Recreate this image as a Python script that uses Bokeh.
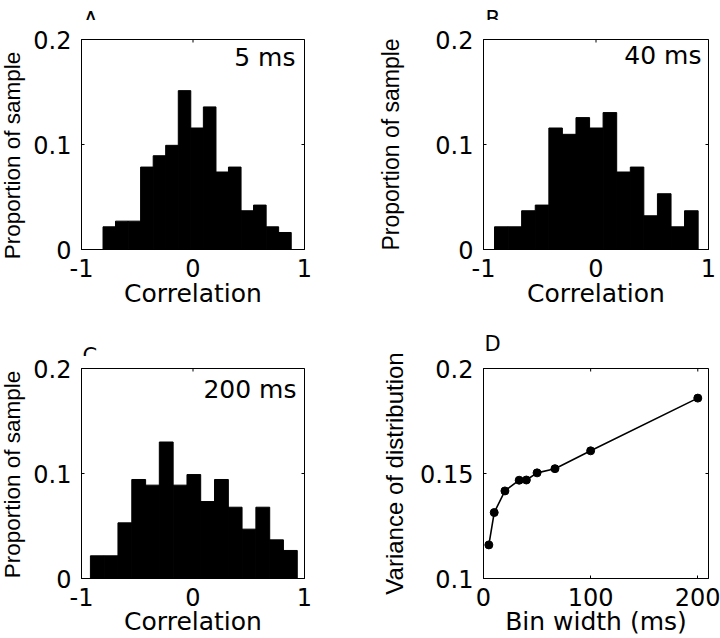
import math
from bokeh.plotting import figure
from bokeh.models import Range1d, FixedTicker, NumeralTickFormatter, LinearAxis, Label, Title
from bokeh.layouts import row, column
from bokeh.embed import file_html
from bokeh.resources import INLINE

# ---------------- data ----------------
HIST_XTICKS = [-1, 0, 1]
HIST_YTICKS = [0, 0.1, 0.2]

A_EDGES = [-0.807, -0.695, -0.582, -0.470, -0.357, -0.245, -0.132, -0.020,
           0.093, 0.206, 0.318, 0.431, 0.543, 0.656, 0.768, 0.881]
A_PROP = [0.0216, 0.0270, 0.0270, 0.0785, 0.0893, 0.0992, 0.1513, 0.1157,
          0.1358, 0.0738, 0.0785, 0.0369, 0.0423, 0.0216, 0.0162]

B_EDGES = [-0.902, -0.781, -0.661, -0.540, -0.419, -0.299, -0.178, -0.057,
           0.063, 0.184, 0.305, 0.425, 0.546, 0.667, 0.787, 0.908]
B_PROP = [0.0216, 0.0216, 0.0369, 0.0423, 0.1157, 0.1097, 0.1256, 0.1157,
          0.1304, 0.0738, 0.0785, 0.0321, 0.0531, 0.0216, 0.0369]

C_EDGES = [-0.920, -0.796, -0.673, -0.549, -0.425, -0.302, -0.178, -0.054,
           0.069, 0.193, 0.317, 0.440, 0.564, 0.688, 0.811, 0.935]
C_PROP = [0.0216, 0.0216, 0.0530, 0.0943, 0.0889, 0.1300, 0.0889, 0.0990,
          0.0733, 0.0943, 0.0679, 0.0470, 0.0679, 0.0368, 0.0267]

BIN_WIDTH_MS = [5, 10, 20, 33.3, 40, 50, 66.7, 100, 200]
VARIANCE = [0.1160, 0.1314, 0.1417, 0.1468, 0.1469, 0.1503, 0.1523, 0.1608, 0.1859]
D_XTICKS = [0, 100, 200]
D_YTICKS = [0.1, 0.15, 0.2]

PANEL_LETTERS = ["A", "B", "C", "D"]
BIN_LABELS = ["5 ms", "40 ms", "200 ms"]
Y_TITLES = ["Proportion of sample", "Proportion of sample",
            "Proportion of sample", "Variance of distribution"]
X_TITLES = ["Correlation", "Correlation", "Correlation", "Bin width (ms)"]

# ---------------- style ----------------
TICK_FONT = "DejaVu Sans"
TICK_SIZE = "24px"
HTXT_FONT = "DejaVu Sans"
HTXT_SIZE = "25px"
VTXT_FONT = "Liberation Sans"


def blank(width, height):
    """A text-only figure (1 data unit = 1 px)."""
    s = figure(frame_width=width, frame_height=height, output_backend="svg",
               toolbar_location=None, tools="",
               x_range=Range1d(0, width), y_range=Range1d(0, height),
               min_border=0, x_axis_type=None, y_axis_type=None,
               frame_align=False)
    s.outline_line_color = None
    s.background_fill_color = "white"
    s.border_fill_color = "white"
    s.xgrid.visible = False
    s.ygrid.visible = False
    return s


def ylabel_strip(width, height, text, baseline_x, size):
    s = blank(width, height)
    s.add_layout(Label(x=baseline_x, y=height / 2, text=text,
                       angle=math.pi / 2, text_font=VTXT_FONT,
                       text_font_size=size, text_align="center",
                       text_baseline="alphabetic", text_color="black"))
    return s


def letter_strip(width, height, letter, x, baseline_y):
    s = blank(width, height)
    s.add_layout(Label(x=x, y=baseline_y, text=letter, text_font=HTXT_FONT,
                       text_font_size="21px", text_align="left",
                       text_baseline="alphabetic", text_color="black"))
    return s


def make_panel(width, height, bl, br, bt, bb, xr, yr, xticks, yticks,
               xlabel, xlab_so, ylabel=None, ylab_so=0, ylab_size="24px"):
    p = figure(width=width, height=height, output_backend="svg",
               toolbar_location=None, tools="",
               x_range=Range1d(*xr), y_range=Range1d(*yr),
               min_border_left=bl, min_border_right=br,
               min_border_top=bt, min_border_bottom=bb,
               x_axis_type=None, y_axis_type=None, frame_align=False)
    p.background_fill_color = "white"
    p.border_fill_color = "white"
    p.outline_line_color = "black"
    p.outline_line_width = 1
    p.xgrid.visible = False
    p.ygrid.visible = False
    fmt = NumeralTickFormatter(format="0.[00]")
    for side, ticks in (("below", xticks), ("left", yticks)):
        ax = LinearAxis(ticker=FixedTicker(ticks=ticks), formatter=fmt)
        ax.axis_line_color = "black"
        ax.axis_line_width = 1
        ax.major_tick_in = 3
        ax.major_tick_out = 0
        ax.minor_tick_in = 0
        ax.minor_tick_out = 0
        ax.major_tick_line_color = "black"
        ax.minor_tick_line_color = None
        ax.major_label_text_font = TICK_FONT
        ax.major_label_text_font_size = TICK_SIZE
        ax.major_label_text_color = "black"
        ax.axis_label_text_color = "black"
        ax.axis_label_text_font_style = "normal"
        if side == "below":
            ax.major_label_standoff = 9
            ax.axis_label = xlabel
            ax.axis_label_standoff = xlab_so
            ax.axis_label_text_font = HTXT_FONT
            ax.axis_label_text_font_size = HTXT_SIZE
        else:
            ax.major_label_standoff = 10
            if ylabel is not None:
                ax.axis_label = ylabel
                ax.axis_label_standoff = ylab_so
                ax.axis_label_text_font = VTXT_FONT
                ax.axis_label_text_font_size = ylab_size
        p.add_layout(ax, side)
    # mirrored inward ticks on the top and right edges (outer half is clipped)
    p.scatter(x=[xr[1]] * len(yticks), y=yticks, marker="dash", size=6,
              line_color="black", line_width=1)
    p.scatter(x=xticks, y=[yr[1]] * len(xticks), marker="dash", angle=math.pi / 2,
              size=6, line_color="black", line_width=1)
    return p


def hist_panel(width, height, bl, br, bt, bb, edges, props, idx, bl_dx, bl_dy,
               xlab_so, ylabel=None, ylab_so=0, ylab_size="24px"):
    xr, yr = (-1, 1), (0, 0.2)
    p = make_panel(width, height, bl, br, bt, bb, xr, yr, HIST_XTICKS, HIST_YTICKS,
                   X_TITLES[idx], xlab_so, ylabel, ylab_so, ylab_size)
    p.quad(left=edges[:-1], right=edges[1:], bottom=[0] * len(props), top=props,
           fill_color="black", line_color="black", line_width=1)
    p.add_layout(Label(x=xr[1], y=yr[1], x_offset=bl_dx, y_offset=bl_dy,
                       text=BIN_LABELS[idx], text_font=HTXT_FONT,
                       text_font_size=HTXT_SIZE, text_align="right",
                       text_baseline="middle", text_color="black"))
    return p


# columns: 30 | 330 | 360 (total 720);  rows: 310 | 328 (total 638)
# row 1: letter strip 20 + panel 290 (frame 39..249)
ylA = ylabel_strip(30, 310, Y_TITLES[0], 11.5, "22.5px")
hA = letter_strip(330, 20, PANEL_LETTERS[0], 49 + 4, 1)
pA = hist_panel(330, 290, 49, 56, 19, 61, A_EDGES, A_PROP, 0, -9, -18, -1)
hB = letter_strip(360, 20, PANEL_LETTERS[1], 123 + 2, 1.5)
pB = hist_panel(360, 290, 123, 12, 19, 61, B_EDGES, B_PROP, 1, -7, -16, -1,
                ylabel=Y_TITLES[1], ylab_so=28, ylab_size="23px")

# row 2: letter strip 46 + panel 282 (frame 368..578); panel D spans full height
ylC = ylabel_strip(30, 328, Y_TITLES[2], 11.5, "22.5px")
hC = letter_strip(330, 46, PANEL_LETTERS[2], 49 + 3, 1)
pC = hist_panel(330, 282, 49, 56, 12, 60, C_EDGES, C_PROP, 2, -8, -21, -2)

xrD, yrD = (0, 210), (0.1, 0.2)
pD = make_panel(360, 328, 123, 12, 58, 60, xrD, yrD, D_XTICKS, D_YTICKS,
                X_TITLES[3], -2, ylabel=Y_TITLES[3], ylab_so=9, ylab_size="24px")
pD.add_layout(Title(text=PANEL_LETTERS[3], align="left", offset=1, standoff=26,
                    vertical_align="bottom", text_font=HTXT_FONT,
                    text_font_size="21px", text_font_style="normal",
                    text_color="black"), "above")
pD.line(BIN_WIDTH_MS, VARIANCE, line_color="black", line_width=1.6)
pD.scatter(BIN_WIDTH_MS, VARIANCE, size=8, fill_color="black", line_color="black")

layout = column(
    row(ylA, column(hA, pA), column(hB, pB)),
    row(ylC, column(hC, pC), pD),
)

with open("out.html", "w") as f:
    f.write(file_html(layout, INLINE))
